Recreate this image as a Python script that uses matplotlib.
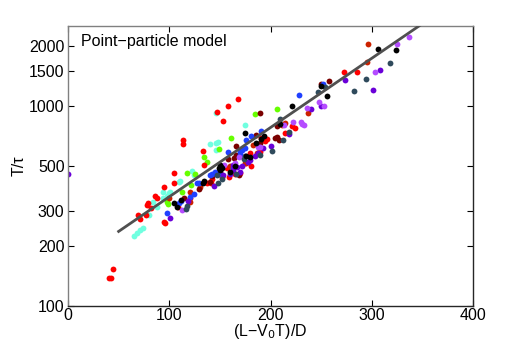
import numpy as np
import matplotlib
matplotlib.use('Agg')
import matplotlib.pyplot as plt
from matplotlib.ticker import NullLocator, FixedLocator, FixedFormatter

plt.rcParams['font.family'] = ['Liberation Sans', 'DejaVu Sans']

# Scatter data, one list of (x, T/tau) pairs per colour group
red_pts = [(40, 138), (42, 138), (44, 153), (69, 286), (71, 272), (77, 285), (78, 320),
           (79, 329), (82, 309), (86, 356), (88, 348), (95, 392), (95, 263), (96, 261),
           (105, 464), (105, 414), (109, 314), (120, 345), (114, 676), (114, 644),
           (133, 598), (147, 935), (153, 838), (158, 1000), (168, 1084), (134, 507),
           (145, 464), (142, 433), (137, 410), (141, 414), (159, 440), (157, 490),
           (181, 501), (180, 580), (190, 603), (190, 590), (191, 694), (195, 668),
           (197, 682), (214, 736), (221, 795), (224, 780), (273, 1480), (285, 1477),
           (170, 460), (176, 520), (165, 455), (152, 440)]
brick_pts = [(296, 2041), (237, 925), (295, 1660), (120, 330), (120, 372), (211, 803),
             (214, 820), (187, 580), (175, 520), (130, 395), (100, 345), (160, 500),
             (183, 640)]
maroon_pts = [(115, 345), (129, 383), (140, 418), (166, 632), (166, 569), (164, 547),
              (158, 542), (190, 918), (190, 655), (186, 714), (204, 690), (208, 680),
              (206, 700), (250, 1290), (258, 1335), (150, 470), (148, 460), (142, 445),
              (206, 795), (169, 450)]
black_pts = [(105, 329), (108, 314), (112, 339), (133, 414), (134, 422), (149, 487),
             (151, 497), (150, 507), (152, 490), (150, 479), (176, 562), (180, 558),
             (175, 730), (186, 655), (191, 681), (194, 708), (209, 817), (221, 996),
             (250, 1259), (256, 1128), (306, 1937), (324, 1902), (165, 500), (160, 470)]
blue_pts = [(98, 291), (110, 329), (112, 335), (127, 410), (129, 414), (140, 451),
            (142, 457), (158, 592), (170, 588), (172, 603), (175, 615), (170, 570),
            (176, 676), (181, 708), (191, 750), (228, 1140), (252, 1286), (145, 470),
            (150, 455), (163, 490), (120, 350), (124, 365)]
violet_pts = [(0, 457), (101, 274), (119, 335), (144, 396), (153, 451), (163, 507),
              (163, 480), (167, 495), (172, 501), (178, 526), (180, 537), (188, 580),
              (193, 615), (200, 631), (218, 725), (240, 968), (250, 1000), (274, 1349),
              (301, 1208), (308, 1512), (170, 470), (160, 455), (185, 560)]
lilac_pts = [(113, 301), (154, 507), (169, 556), (188, 622), (190, 627), (222, 832),
             (230, 832), (233, 803), (231, 812), (213, 803), (236, 978), (248, 1050),
             (253, 1000), (303, 1487), (325, 2042), (337, 2223), (165, 520), (175, 560)]
slate_pts = [(117, 307), (118, 317), (147, 451), (152, 433), (148, 410), (166, 457),
             (175, 562), (174, 542), (201, 597), (209, 863), (218, 742), (212, 680),
             (247, 1172), (254, 1242), (282, 1190), (294, 1371), (318, 1639), (190, 570)]
green_pts = [(98, 333), (99, 322), (113, 372), (121, 405), (118, 464), (125, 457),
             (134, 558), (137, 525), (149, 607), (161, 688), (185, 911), (206, 968)]
aqua_pts = [(65, 224), (68, 233), (71, 240), (74, 246), (80, 284), (84, 333), (88, 314),
            (94, 348), (98, 356), (100, 366), (101, 370), (94, 372), (110, 418), (111, 424),
            (122, 475), (124, 451), (140, 644), (146, 653), (148, 657), (146, 603),
            (146, 925), (175, 803)]

groups = [(aqua_pts, '#70ffe0'), (green_pts, '#66ff00'), (red_pts, '#ff0000'),
          (brick_pts, '#cc2200'), (maroon_pts, '#7a0000'), (blue_pts, '#2040ff'),
          (violet_pts, '#6a00d8'), (lilac_pts, '#b44cff'), (slate_pts, '#2f4a5c'),
          (black_pts, '#000000')]

# Fit line end points
fit_x = [50, 350]
fit_y = [236, 2580]

xticks = [0, 100, 200, 300, 400]
yticks = [100, 200, 300, 500, 1000, 1500, 2000]

fig = plt.figure(figsize=(5.23, 3.5), dpi=100)
ax = fig.add_axes([68 / 523, 44 / 350, 405 / 523, 280 / 350])

for pts, col in groups:
    pts = np.array(pts)
    ax.plot(pts[:, 0], pts[:, 1], 'o', color=col, ms=4.2, mew=0, zorder=2)

ax.plot(fit_x, fit_y, '-', color='#505050', lw=2.0, zorder=3)

ax.set_yscale('log')
ax.set_xlim(0, 400)
ax.set_ylim(100, 2512)
ax.xaxis.set_major_locator(FixedLocator(xticks))
ax.yaxis.set_major_locator(FixedLocator(yticks))
ax.yaxis.set_major_formatter(FixedFormatter([str(t) for t in yticks]))
ax.yaxis.set_minor_locator(NullLocator())
ax.tick_params(which='both', direction='in', top=True, right=True, length=4,
               width=0.8, labelsize=11.5, pad=2.5)
ax.tick_params(axis='x', pad=1.5)

for side in ['left', 'top']:
    ax.spines[side].set_color('#808080')
for side in ['bottom', 'right']:
    ax.spines[side].set_color('#262626')
for s in ax.spines.values():
    s.set_linewidth(1.0)

ax.text(0.031, 0.943, 'Point\u2212particle model', transform=ax.transAxes,
        fontsize=11.5, va='center', ha='left')
ax.set_xlabel('(L\u2212V$_0$T)/D', fontsize=11.5, labelpad=-1)
ax.set_ylabel('T/\u03c4', fontsize=11.5, labelpad=2)

plt.savefig('out.png', dpi=100)
